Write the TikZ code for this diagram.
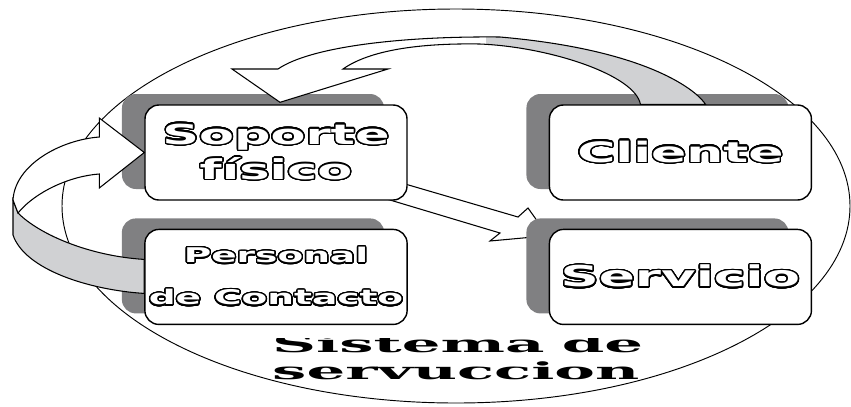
\documentclass[tikz,border=0pt]{standalone}
\usepackage{fontspec}
\usepackage{contour}
\usetikzlibrary{positioning,calc,shadows,backgrounds}
\definecolor{shadowgray}{RGB}{128,128,130}
\definecolor{ribbongray}{RGB}{208,209,211}
\newfontfamily\boxfont{DejaVu Sans Bold}[FakeStretch=1.85]
\newfontfamily\titlefont{DejaVu Serif Bold}[FakeStretch=2.6]
\contourlength{1.2pt}
\contournumber{32}
\newcommand\hollow[1]{\textcolor{white}{\contour{black}{#1}}}
\newcommand\topband{(tOut) .. controls (698,92) and (650,50) .. (500,37) .. controls (400,36) and (310,47) .. (278,69) -- (232,69) -- (tTip) -- (388,69) -- (343,69) .. controls (370,50) and (420,43) .. (480,44) .. controls (550,47) and (635,75) .. (tIn) -- cycle}

\begin{document}
\begin{tikzpicture}[
  x=0.03cm, y=-0.03cm,
  stage/.style={draw, line width=1.2pt, rounded corners=0.42cm, fill=white, minimum width=7.86cm, minimum height=2.85cm, align=center,
    general shadow={fill=shadowgray, shadow xshift=-0.69cm, shadow yshift=0.33cm}},
  band/.style={draw, line width=0.9pt, line join=miter}
]
\useasboundingbox (0,0) rectangle (851,406);
\node[stage, font=\boxfont\fontsize{23.5}{30}\selectfont] (sop) at (276,152.5) {\hollow{Soporte}\\\hollow{físico}};
\node[stage, right=4.23cm of sop, font=\boxfont\fontsize{24}{30}\selectfont] (cli) {\hollow{Cliente}};
\node[stage, below=0.84cm of sop, font=\boxfont\fontsize{17.3}{36}\selectfont] (per) {\hollow{Personal}\\\hollow{de Contacto}};
\node[stage, below=0.84cm of cli, font=\boxfont\fontsize{24.5}{30}\selectfont] (ser) {\hollow{Servicio}};

% system border and the thin arrow, behind the boxes
\begin{scope}[on background layer]
\draw[line width=0.8pt] (456,206) ellipse [x radius=394, y radius=197];
\filldraw[band, fill=white] ($(sop.south east)+(-7,-18)$) -- (518,217) -- (528,208) -- ($(ser.north west)+(-1,7)$) -- (490,241) -- (500,233) -- ($(sop.south east)+(-22,-2)$) -- cycle;
\end{scope}

% ribbon from cliente back to soporte
\coordinate (tTip) at ($(sop.north)+(4,-2)$);
\coordinate (tOut) at ($(cli.north)+(25,0)$);
\coordinate (tIn) at ($(cli.north)+(-40,0)$);
\fill[white] \topband;
\begin{scope}
\clip (486,0) rectangle (760,110);
\fill[ribbongray] \topband;
\end{scope}
\draw[band] \topband;

% ribbon from personal to soporte
\coordinate (lTip) at (sop.west);
\coordinate (lUp) at ($(per.west)+(0,-17.5)$);
\coordinate (lLo) at ($(per.west)+(0,16.5)$);
\filldraw[band, fill=ribbongray] (13,200) -- (18,213) .. controls (40,235) and (90,256) .. (lUp) -- (lLo) .. controls (90,290) and (25,270) .. (13,235) -- cycle;
\filldraw[band, fill=white] (13,200) .. controls (15,165) and (60,140) .. ($(lTip)+(-45,-15.5)$) -- ($(lTip)+(-45,-34.5)$) -- (lTip) -- ($(lTip)+(-45,35.5)$) -- ($(lTip)+(-45,21.5)$) .. controls (70,176) and (35,192) .. (18,213) -- cycle;

\begin{scope}
\clip (0,338) rectangle (851,406);
\node[anchor=base west, inner sep=0, text width=11.13cm, align=left, font=\titlefont\fontsize{20}{23.8}\selectfont] (sis) at (272,352) {Sistema\hfill de\\servuccion};
\end{scope}
\end{tikzpicture}
\end{document}
